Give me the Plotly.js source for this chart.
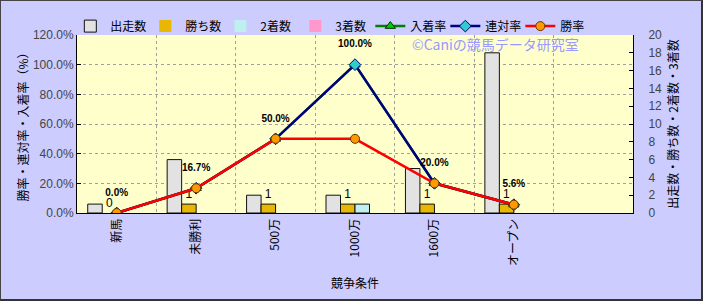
<!DOCTYPE html>
<html><head><meta charset="utf-8">
<script src="https://cdn.plot.ly/plotly-3.0.1.min.js"></script>
<style>
html,body{margin:0;padding:0;background:#CCCCFF;}
#wrap{position:relative;width:703px;height:301px;}
#chart{width:703px;height:301px;}
#frame{position:absolute;left:0;top:0;width:703px;height:301px;box-sizing:border-box;border-left:1px solid #444;border-top:1px solid #444;border-right:2px solid #333;border-bottom:2px solid #333;pointer-events:none;}
</style></head>
<body><div id="wrap"><div id="chart"></div><div id="frame"></div></div>
<script>
const categories = ['新馬','未勝利','500万','1000万','1600万','オープン',' '];
const starts   = [1, 6, 2, 2, 5, 18, null];   // 出走数
const wins     = [0, 1, 1, 1, 1, 1, null];    // 勝ち数
const seconds  = [0, 0, 0, 1, 0, 0, null];    // 2着数
const thirds   = [0, 0, 0, 0, 0, 0, null];    // 3着数
const placeRate = [0, 16.7, 50, 100, 20, 5.6, null]; // 入着率
const quinRate  = [0, 16.7, 50, 100, 20, 5.6, null]; // 連対率
const winRate   = [0, 16.7, 50, 50, 20, 5.6, null];  // 勝率
const leftTicks = [0,20,40,60,80,100,120];
const rightTicks = [0,2,4,6,8,10,12,14,16,18,20];

const jp = 'Noto Sans CJK JP, sans-serif';
const num = 'Liberation Sans, Arial, sans-serif';

function barLine(vals){ return {color:'#111', width: vals.map(v => v ? 1 : 0)}; }
const traces = [
 {type:'bar', name:'出走数', x:categories, y:starts, marker:{color:'#E2E2E2', line:barLine(starts)}, yaxis:'y'},
 {type:'bar', name:'勝ち数', x:categories, y:wins, marker:{color:'#E8B800', line:barLine(wins)}, yaxis:'y',
  text:wins.map(v=>v===null?'':String(v)), textposition:'outside', cliponaxis:false,
  textfont:{family:num, size:12, color:'#000'}},
 {type:'bar', name:'2着数', x:categories, y:seconds, marker:{color:'#BFEFEF', line:barLine(seconds)}, yaxis:'y'},
 {type:'bar', name:'3着数', x:categories, y:thirds, marker:{color:'#FF99CC', line:barLine(thirds)}, yaxis:'y'},
 {type:'scatter', mode:'lines+markers', name:'入着率', x:categories, y:placeRate, yaxis:'y2',
  line:{color:'#008000', width:2.5}, marker:{symbol:'triangle-up', size:9, color:'#00CC00', line:{color:'#003300', width:1}}},
 {type:'scatter', mode:'lines+markers', name:'連対率', x:categories, y:quinRate, yaxis:'y2',
  line:{color:'#000080', width:2.5}, marker:{symbol:'diamond', size:9, color:'#33CCCC', line:{color:'#000080', width:1}}},
 {type:'scatter', mode:'lines+markers', name:'勝率', x:categories, y:winRate, yaxis:'y2',
  line:{color:'#FF0000', width:2.5}, marker:{symbol:'circle', size:9, color:'#FF9900', line:{color:'#663300', width:1}}},
 {type:'scatter', mode:'markers+text', name:'連対率ラベル', showlegend:false, x:categories, y:quinRate, yaxis:'y2',
  marker:{size:22, color:'rgba(0,0,0,0)'}, hoverinfo:'skip',
  text:quinRate.map(v=>v===null?'':v.toFixed(1)+'%'), textposition:'top center', cliponaxis:false,
  textfont:{family:num, size:10, color:'#000', weight:'bold'}}
];

const layout = {
 width:703, height:301,
 margin:{l:77, r:70, t:25, b:88},
 paper_bgcolor:'#CCCCFF', plot_bgcolor:'#FFFFCC',
 barmode:'group', bargap:0.27, bargroupgap:0,
 showlegend:true,
 legend:{orientation:'h', x:-0.012, xanchor:'left', y:1.05, yanchor:'middle',
   font:{family:jp, size:12, color:'#000'}, bgcolor:'rgba(0,0,0,0)', itemwidth:30, entrywidth:30, tracegroupgap:0},
 xaxis:{type:'category', categoryorder:'array', categoryarray:categories, range:[-0.5,6.5],
   tickson:'boundaries', ticks:'', tickangle:-90, showline:true, linecolor:'#000', linewidth:1,
   showgrid:true, gridcolor:'#A0A0A0', griddash:'dot', gridwidth:1,
   tickfont:{family:jp, size:12, color:'#000'},
   title:{text:'競争条件', font:{family:jp, size:12, color:'#000'}, standoff:14}},
 yaxis:{side:'right', range:[0,20], tickvals:rightTicks, showgrid:false, zeroline:false,
   showline:true, linecolor:'#000', linewidth:1, ticks:'inside', ticklen:4, tickcolor:'#000',
   ticklabelstandoff:12,
   tickfont:{family:num, size:12, color:'#444'},
   title:{text:'出走数・勝ち数・2着数・3着数', font:{family:jp, size:12, color:'#000'}}},
 yaxis2:{overlaying:'y', side:'left', range:[0,120], tickvals:leftTicks,
   ticktext:leftTicks.map(v=>v.toFixed(1)+'%'), showgrid:true, gridcolor:'#A0A0A0', griddash:'dot',
   zeroline:false, showline:true, linecolor:'#000', linewidth:1, ticks:'inside', ticklen:4, tickcolor:'#000',
   tickfont:{family:num, size:12, color:'#444'},
   title:{text:'勝率・連対率・入着率（%）', font:{family:jp, size:12, color:'#000'}}},
 annotations:[{text:'©Caniの競馬データ研究室', xref:'paper', yref:'paper', x:0.752, y:0.95,
   xanchor:'center', yanchor:'middle',
   showarrow:false, font:{family:jp, size:14, color:'#9999FF'}}]
};
Plotly.newPlot('chart', traces, layout, {displayModeBar:false, staticPlot:true});
</script></body></html>
